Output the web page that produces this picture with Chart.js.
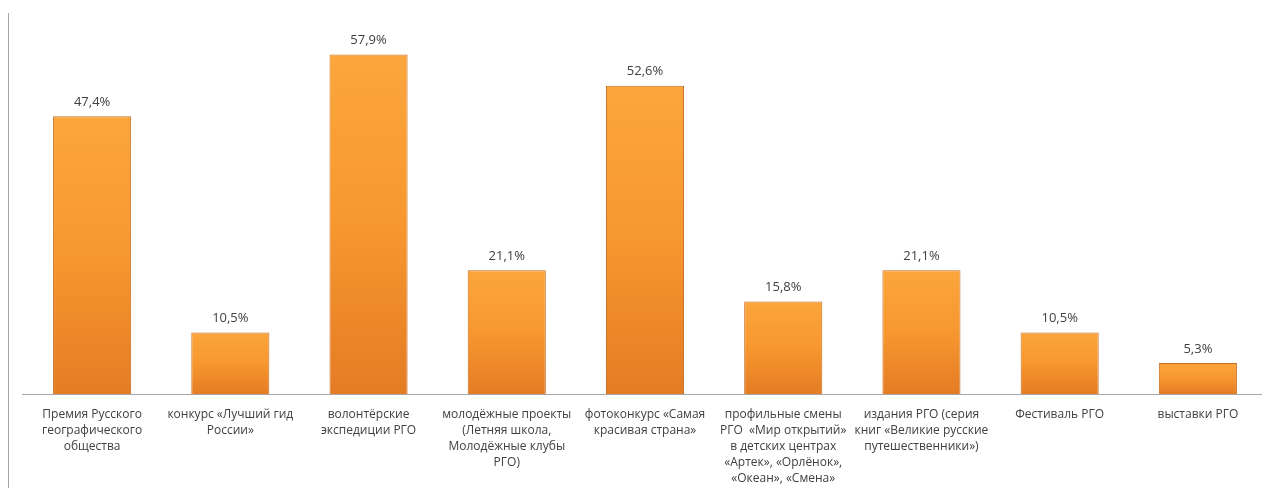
<!DOCTYPE html>
<html>
<head>
<meta charset="utf-8">
<script src="https://cdn.jsdelivr.net/npm/chart.js@4/dist/chart.umd.min.js"></script>
<style>
  html, body { margin: 0; padding: 0; background: #fff; }
  #wrap { width: 1269px; height: 488px; position: relative; }
</style>
</head>
<body>
<div id="wrap"><canvas id="myChart"></canvas></div>
<script>
// categories (multiline as in the picture)
const categories = [
  ['Премия Русского', 'географического', 'общества'],
  ['конкурс «Лучший гид', 'России»'],
  ['волонтёрские', 'экспедиции РГО'],
  ['молодёжные проекты', '(Летняя школа,', 'Молодёжные клубы', 'РГО)'],
  ['фотоконкурс «Самая', 'красивая страна»'],
  ['профильные смены', 'РГО  «Мир открытий»', 'в детских центрах', '«Артек», «Орлёнок»,', '«Океан», «Смена»'],
  ['издания РГО (серия', 'книг «Великие русские', 'путешественники»)'],
  ['Фестиваль РГО'],
  ['выставки РГО']
];
const shares = [47.4, 10.5, 57.9, 21.1, 52.6, 15.8, 21.1, 10.5, 5.3];

// gradient per bar, light at top and darker at the base
function barFill(context) {
  const chart = context.chart;
  const y = chart.scales.y;
  if (!chart.chartArea || !y) return '#F5922F';
  const top = y.getPixelForValue(context.raw);
  const base = y.getPixelForValue(0);
  const g = chart.ctx.createLinearGradient(0, top, 0, base);
  g.addColorStop(0, '#FBA63C');
  g.addColorStop(0.5, '#F7972F');
  g.addColorStop(1, '#E47C24');
  return g;
}

// value labels above bars
const valueLabels = {
  id: 'valueLabels',
  afterDatasetsDraw(chart) {
    const ctx = chart.ctx;
    const meta = chart.getDatasetMeta(0);
    ctx.save();
    ctx.font = '13px "Open Sans", sans-serif';
    ctx.fillStyle = '#404040';
    ctx.textAlign = 'center';
    ctx.textBaseline = 'middle';
    meta.data.forEach((bar, i) => {
      ctx.fillText(shares[i].toFixed(1).replace('.', ',') + '%', bar.x, bar.y - 14);
    });
    ctx.restore();
  }
};

// the lone vertical rule at the left edge and the base line
const frameLines = {
  id: 'frameLines',
  beforeDatasetsDraw(chart) {
    const ctx = chart.ctx;
    const a = chart.chartArea;
    ctx.save();
    ctx.strokeStyle = '#a6a6a6';
    ctx.lineWidth = 1;
    ctx.beginPath();
    ctx.moveTo(8.5, 13);
    ctx.lineTo(8.5, 488);
    ctx.stroke();
    ctx.beginPath();
    ctx.moveTo(22, Math.round(a.bottom) + 0.5);
    ctx.lineTo(1262, Math.round(a.bottom) + 0.5);
    ctx.stroke();
    ctx.restore();
  }
};

new Chart(document.getElementById('myChart'), {
  type: 'bar',
  data: {
    labels: categories,
    datasets: [{
      data: shares,
      backgroundColor: barFill,
      borderColor: '#C96D22',
      borderWidth: 1,
      barPercentage: 0.565,
      categoryPercentage: 1
    }]
  },
  options: {
    responsive: true,
    maintainAspectRatio: false,
    animation: false,
    layout: { padding: { left: 23, right: 2, top: 13, bottom: 0 } },
    plugins: {
      legend: { display: false },
      tooltip: { enabled: false }
    },
    scales: {
      y: {
        display: false,
        min: 0,
        max: 65
      },
      x: {
        afterFit(scale) { scale.height = 94; },
        grid: { display: false, drawTicks: false },
        border: { display: false },
        ticks: {
          color: '#404040',
          font: { family: '"Open Sans", sans-serif', size: 12, lineHeight: 1.333 },
          padding: 13,
          maxRotation: 0,
          autoSkip: false
        }
      }
    }
  },
  plugins: [frameLines, valueLabels]
});
</script>
</body>
</html>
